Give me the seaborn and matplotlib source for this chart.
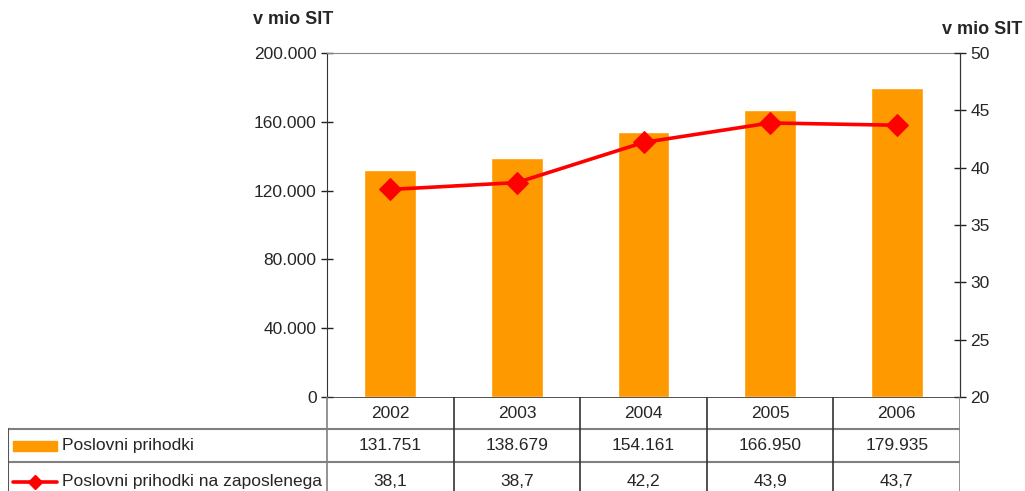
import seaborn as sns
import matplotlib.pyplot as plt, numpy as np
from matplotlib.lines import Line2D
from matplotlib.patches import Rectangle

years = ['2002', '2003', '2004', '2005', '2006']
prihodki = [131751, 138679, 154161, 166950, 179935]
na_zaposlenega = [38.1, 38.7, 42.2, 43.9, 43.7]
prihodki_txt = ['131.751', '138.679', '154.161', '166.950', '179.935']
zap_txt = ['38,1', '38,7', '42,2', '43,9', '43,7']
row_labels = ['Poslovni prihodki', 'Poslovni prihodki na zaposlenega']

sns.set_style('white')
plt.rcParams['font.family'] = ['Liberation Sans', 'DejaVu Sans']
ORANGE, RED = '#FF9900', '#FF0000'
W, H = 1025, 491
FS = 12.5

fig = plt.figure(figsize=(W/100, H/100), dpi=100)
ax = fig.add_axes([327/W, 94/H, (960-327)/W, (397-53)/H])
x = np.arange(len(years))
sns.barplot(x=x, y=prihodki, color=ORANGE, width=0.41, saturation=1, ax=ax, native_scale=True)
ax.set_xlim(-0.5, 4.5)
ax.set_ylim(0, 200000)
ax.set_yticks(np.arange(0, 200001, 40000))
ax.set_yticklabels(['0' if v == 0 else f'{v//1000}.000' for v in range(0, 200001, 40000)])
ax.set_xticks([])
ax.tick_params(axis='y', direction='inout', length=8, width=1, labelsize=FS, color='#222222', left=True)
for s in ['left', 'right', 'bottom']:
    ax.spines[s].set_color('#333333')
ax.spines['top'].set_color('#888888')
ax.spines['bottom'].set_visible(False)

ax2 = ax.twinx()
sns.lineplot(x=x, y=na_zaposlenega, color=RED, lw=2.6, marker='D', markersize=11,
             markeredgecolor=RED, ax=ax2)
ax2.set_ylim(20, 50)
ax2.set_yticks(range(20, 51, 5))
ax2.tick_params(axis='y', direction='inout', length=8, width=1, labelsize=FS, color='#222222', right=True)
for s in ax2.spines.values():
    s.set_visible(False)
ax2.spines['right'].set_visible(True)
ax2.spines['right'].set_color('#333333')
ax.set_xlim(-0.5, 4.5)

fig.text(293/W, 1 - 20/H, 'v mio SIT', ha='center', va='center', fontsize=13, fontweight='bold')
fig.text(982/W, 1 - 30/H, 'v mio SIT', ha='center', va='center', fontsize=13, fontweight='bold')

# data table below the plot
unit = (960 - 327) / 5
tax = fig.add_axes([8/W, -3/H, (960-8)/W, 97/H])
tax.set_xlim(-0.5 - (327 - 8)/unit, 4.5)
tax.set_ylim(3, 0)
tax.axis('off')
x0 = -0.5 - (327 - 8)/unit
gray, dark = '#808080', '#333333'
tax.add_line(Line2D([-0.5, 4.5], [0, 0], color=dark, lw=1.2))
for r in [1, 2]:
    tax.add_line(Line2D([x0, 4.5], [r, r], color=gray, lw=1.5))
tax.add_line(Line2D([x0, x0], [1, 3], color='#555555', lw=1.5))
for i in range(6):
    tax.add_line(Line2D([i - 0.5, i - 0.5], [0, 3], color=dark if 0 < i < 5 else gray, lw=1.2))
for i, yr in enumerate(years):
    tax.text(i, 0.5, yr, ha='center', va='center', fontsize=FS)
    tax.text(i, 1.5, prihodki_txt[i], ha='center', va='center', fontsize=FS)
    tax.text(i, 2.62, zap_txt[i], ha='center', va='center', fontsize=FS)
tax.add_patch(Rectangle((x0 + 5/unit, 1.37), 44/unit, 0.3, color=ORANGE))
tax.add_line(Line2D([x0 + 5/unit, x0 + 49/unit], [2.62, 2.62], color=RED, lw=2.6))
tax.add_line(Line2D([x0 + 27/unit], [2.62], color=RED, marker='D', markersize=7))
tax.text(x0 + 54/unit, 1.5, row_labels[0], ha='left', va='center', fontsize=FS)
tax.text(x0 + 54/unit, 2.62, row_labels[1], ha='left', va='center', fontsize=FS)

plt.savefig('out.png', dpi=100)
plt.close()
